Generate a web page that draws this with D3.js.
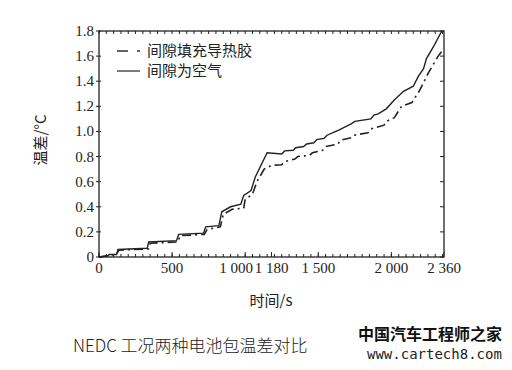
<!DOCTYPE html>
<html>
<head>
<meta charset="utf-8">
<script src="https://cdnjs.cloudflare.com/ajax/libs/d3/7.8.5/d3.min.js"></script>
<style>
	body { margin: 0; background: #fff; }
	.tick-label { font-family: "Liberation Serif", "DejaVu Serif", serif; font-size: 15px; fill: #222; }
	.cjk { font-family: "Noto Sans CJK SC", sans-serif; fill: #222; }
</style>
</head>
<body>
<svg id="chart" width="512" height="370"></svg>
<script>
// series: gap filled with thermal glue (dash-dot) and gap of air (solid)
var glueTime  = [0, 60, 70, 120, 135, 340, 350, 540, 555, 720, 740, 830, 850, 910, 990, 1000, 1050, 1080, 1130, 1180, 1250, 1270, 1340, 1360, 1440, 1460, 1530, 1550, 1635, 1650, 1725, 1745, 1840, 1860, 1950, 1965, 2020, 2070, 2140, 2190, 2255, 2320, 2360];
var glueDelta = [0, 0.01, 0.015, 0.02, 0.055, 0.065, 0.11, 0.12, 0.17, 0.18, 0.22, 0.24, 0.34, 0.38, 0.39, 0.46, 0.50, 0.60, 0.70, 0.73, 0.735, 0.76, 0.78, 0.80, 0.81, 0.83, 0.85, 0.88, 0.90, 0.93, 0.95, 0.97, 0.99, 1.02, 1.05, 1.08, 1.11, 1.20, 1.23, 1.32, 1.47, 1.60, 1.66];

var airTime  = [0, 60, 70, 120, 130, 330, 340, 530, 545, 715, 730, 820, 840, 900, 970, 990, 1040, 1070, 1150, 1250, 1270, 1330, 1345, 1400, 1420, 1470, 1490, 1540, 1560, 1600, 1640, 1725, 1750, 1860, 1880, 1910, 1965, 2020, 2083, 2150, 2185, 2220, 2240, 2290, 2345];
var airDelta = [0, 0.01, 0.02, 0.02, 0.06, 0.07, 0.12, 0.13, 0.18, 0.19, 0.24, 0.25, 0.36, 0.40, 0.42, 0.49, 0.53, 0.64, 0.83, 0.82, 0.845, 0.85, 0.87, 0.88, 0.90, 0.91, 0.935, 0.945, 0.97, 0.99, 1.01, 1.06, 1.08, 1.10, 1.13, 1.14, 1.18, 1.25, 1.32, 1.36, 1.44, 1.50, 1.58, 1.68, 1.80];

var xTicks = [0, 500, 1000, 1180, 1500, 2000, 2360];
var xTickLabels = ["0", "500", "1 000", "1 180", "1 500", "2 000", "2 360"];
var yTicks = [0, 0.2, 0.4, 0.6, 0.8, 1.0, 1.2, 1.4, 1.6, 1.8];
var yTickLabels = ["0", "0.2", "0.4", "0.6", "0.8", "1.0", "1.2", "1.4", "1.6", "1.8"];
var seriesNames = ["间隙填充导热胶", "间隙为空气"];

var margin = {top: 31, right: 68, bottom: 113, left: 99},
	width = 512 - margin.left - margin.right,
	height = 370 - margin.top - margin.bottom;

var x = d3.scaleLinear().domain([0, 2360]).range([0, width]),
	y = d3.scaleLinear().domain([0, 1.8]).range([height, 0]);

var svg = d3.select("#chart");
var g = svg.append("g")
	.attr("transform", "translate(" + margin.left + "," + margin.top + ")");

var minor = d3.range(0, 2360, 50);

// bottom axis: inward ticks
var bottom = g.append("g").attr("transform", "translate(0," + height + ")");
bottom.selectAll(".minor").data(minor).enter().append("line")
	.attr("x1", function(d) { return x(d); }).attr("x2", function(d) { return x(d); })
	.attr("y1", 0).attr("y2", -3).attr("stroke", "#222");
bottom.selectAll(".major").data(xTicks).enter().append("line")
	.attr("x1", function(d) { return x(d); }).attr("x2", function(d) { return x(d); })
	.attr("y1", 0).attr("y2", -5).attr("stroke", "#222");
bottom.selectAll("text").data(xTicks).enter().append("text")
	.attr("class", "tick-label")
	.attr("x", function(d) { return x(d) + (d === 1000 ? -9 : 0); })
	.attr("y", 16)
	.attr("text-anchor", "middle")
	.text(function(d, i) { return xTickLabels[i]; });

// top axis: inward minor ticks
g.selectAll(".topminor").data(minor).enter().append("line")
	.attr("x1", function(d) { return x(d); }).attr("x2", function(d) { return x(d); })
	.attr("y1", 0).attr("y2", 3).attr("stroke", "#222");

// left axis
g.selectAll(".lefttick").data(yTicks).enter().append("line")
	.attr("x1", -3).attr("x2", 2)
	.attr("y1", function(d) { return y(d); }).attr("y2", function(d) { return y(d); })
	.attr("stroke", "#222");
g.selectAll(".ylab").data(yTicks).enter().append("text")
	.attr("class", "tick-label")
	.attr("x", -5)
	.attr("y", function(d) { return y(d) + 5; })
	.attr("text-anchor", "end")
	.text(function(d, i) { return yTickLabels[i]; });

// right axis: inward ticks
g.selectAll(".righttick").data(yTicks).enter().append("line")
	.attr("x1", width - 4).attr("x2", width)
	.attr("y1", function(d) { return y(d); }).attr("y2", function(d) { return y(d); })
	.attr("stroke", "#222");

g.append("rect")
	.attr("width", width).attr("height", height)
	.attr("fill", "none").attr("stroke", "#222").attr("stroke-width", 1.3);

var line = d3.line()
	.x(function(d) { return x(d[0]); })
	.y(function(d) { return y(d[1]); });

var glue = glueTime.map(function(t, i) { return [t, glueDelta[i]]; });
var air = airTime.map(function(t, i) { return [t, airDelta[i]]; });

g.append("path").datum(air)
	.attr("d", line)
	.attr("fill", "none").attr("stroke", "#222").attr("stroke-width", 1.4);
g.append("path").datum(glue)
	.attr("d", line)
	.attr("fill", "none").attr("stroke", "#222").attr("stroke-width", 1.6)
	.attr("stroke-dasharray", "9,4,2,4");

// legend
var legend = g.append("g");
legend.append("line")
	.attr("x1", 18).attr("x2", 29).attr("y1", 20).attr("y2", 20)
	.attr("stroke", "#222").attr("stroke-width", 1.4);
legend.append("line")
	.attr("x1", 38).attr("x2", 41).attr("y1", 20).attr("y2", 20)
	.attr("stroke", "#222").attr("stroke-width", 1.4);
legend.append("line")
	.attr("x1", 18).attr("x2", 41).attr("y1", 40).attr("y2", 40)
	.attr("stroke", "#222").attr("stroke-width", 1.2);
legend.selectAll("text").data(seriesNames).enter().append("text")
	.attr("class", "cjk")
	.attr("x", 48)
	.attr("y", function(d, i) { return 25 + i * 20; })
	.style("font-size", "15px")
	.text(function(d) { return d; });

// axis titles
svg.append("text")
	.attr("class", "cjk")
	.attr("transform", "translate(46,140) rotate(-90)")
	.attr("text-anchor", "middle")
	.style("font-size", "15px")
	.text("温差/°C");
svg.append("text")
	.attr("class", "cjk")
	.attr("x", 271).attr("y", 306)
	.attr("text-anchor", "middle")
	.style("font-size", "15px")
	.text("时间/s");

// caption and watermark
svg.append("text")
	.attr("class", "cjk")
	.attr("x", 73).attr("y", 352)
	.style("font-size", "17px")
	.style("font-weight", 300)
	.text("NEDC 工况两种电池包温差对比");
svg.append("text")
	.attr("x", 358).attr("y", 340)
	.style("font-family", "Noto Sans CJK SC")
	.style("font-size", "16px")
	.style("font-weight", "bold")
	.attr("fill", "#111")
	.text("中国汽车工程师之家");
svg.append("text")
	.attr("x", 367).attr("y", 359)
	.style("font-family", "DejaVu Sans Mono")
	.style("font-size", "14px")
	.attr("fill", "#222")
	.text("www.cartech8.com");
</script>
</body>
</html>
